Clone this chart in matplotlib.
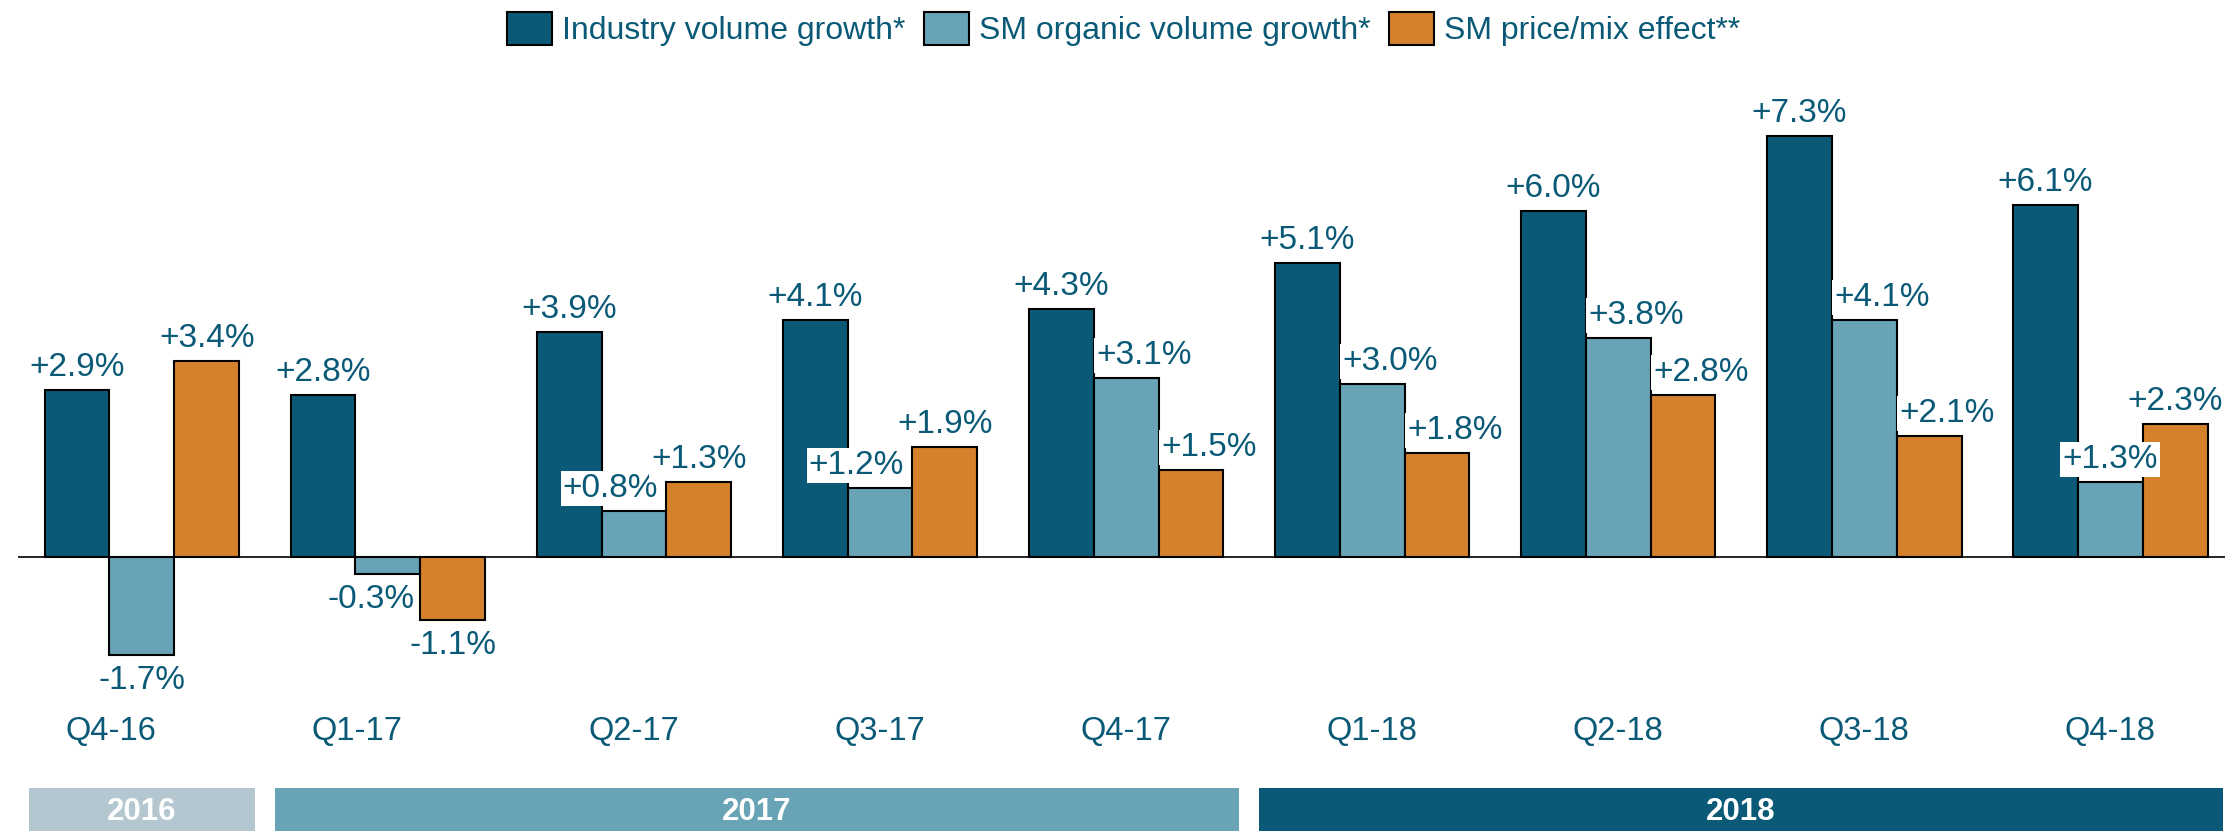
import numpy as np
import matplotlib.pyplot as plt
import matplotlib.transforms as mtransforms
from matplotlib.patches import Rectangle

plt.rcParams['font.family'] = ['Liberation Sans', 'DejaVu Sans']

quarters = ['Q4-16', 'Q1-17', 'Q2-17', 'Q3-17', 'Q4-17', 'Q1-18', 'Q2-18', 'Q3-18', 'Q4-18']
industry = [2.9, 2.8, 3.9, 4.1, 4.3, 5.1, 6.0, 7.3, 6.1]
sm_organic = [-1.7, -0.3, 0.8, 1.2, 3.1, 3.0, 3.8, 4.1, 1.3]
price_mix = [3.4, -1.1, 1.3, 1.9, 1.5, 1.8, 2.8, 2.1, 2.3]
series_names = ['Industry volume growth*', 'SM organic volume growth*', 'SM price/mix effect**']

years = ['2016', '2017', '2018']
year_groups = [(0, 0), (1, 4), (5, 8)]  # first / last quarter index per year

colors = ['#0A5A77', '#68A3B6', '#D5802B']
year_colors = ['#B4C6CF', '#68A3B6', '#0A5A77']
text_col = '#0A5A77'

# horizontal nudges (points) of the value labels, as placed in the original
label_dx = [
    [0] * 9,
    [0, -12, -17, -17, 13, 13, 13, 13, 0],
    [0, 0, 0, 0, 13, 13, 13, 13, 0],
]

W, H = 2225, 831
fig = plt.figure(figsize=(W / 100, H / 100), dpi=100)
ax = fig.add_axes([0, (H - 700) / H, 1, 640 / H])

x = np.arange(len(quarters))
bw = 0.264
xmin, xmax = -0.577, 8.467
for i, (vals, c, name) in enumerate(zip([industry, sm_organic, price_mix], colors, series_names)):
    pos = x + (i - 1) * bw
    ax.bar(pos, vals, bw, color=c, edgecolor='black', linewidth=1.5, label=name, zorder=2)
    for px, v, dx in zip(pos, vals, label_dx[i]):
        off = 5 if v >= 0 else -7
        ax.annotate(f'{v:+.1f}%', (px, v), xytext=(dx, off), textcoords='offset points',
                    ha='center', va='bottom' if v >= 0 else 'top', fontsize=24, color=text_col,
                    bbox=dict(facecolor='white', edgecolor='none', pad=1.5), zorder=3)

ax.hlines(0, -0.504, xmax, color='black', linewidth=1.2, zorder=1)
ax.set_xlim(xmin, xmax)
ax.set_ylim(-2.478, 8.61)
ax.axis('off')

# first two quarter labels sit a little left of their bar groups in the original
label_shift = [-0.125, -0.125] + [0] * (len(quarters) - 2)
trans = mtransforms.blended_transform_factory(ax.transData, fig.transFigure)
for xi, q, s in zip(x, quarters, label_shift):
    ax.text(xi + s, (H - 731) / H, q, transform=trans, ha='center', va='center',
            fontsize=23.5, color=text_col)

# year bands
bax = fig.add_axes([0, 0, 1, 43 / H])
bax.set_xlim(xmin, xmax)
bax.set_ylim(0, 1)
bax.axis('off')
for yr, (a, b), c in zip(years, year_groups, year_colors):
    left = max(a - 0.46, -0.52)
    right = min(b + 0.46, xmax)
    bax.add_patch(Rectangle((left, 0), right - left, 1, color=c, linewidth=0))
    bax.text((left + right) / 2, 0.45, yr, ha='center', va='center', fontsize=22.5,
             fontweight='bold', color='white')

fig.legend(loc='upper center', bbox_to_anchor=(0.505, 1.02), ncol=3, frameon=False,
           fontsize=23, handlelength=1.4, handleheight=1.2, handletextpad=0.3,
           columnspacing=0.6, labelcolor=text_col)

fig.savefig('out.png', dpi=100)
